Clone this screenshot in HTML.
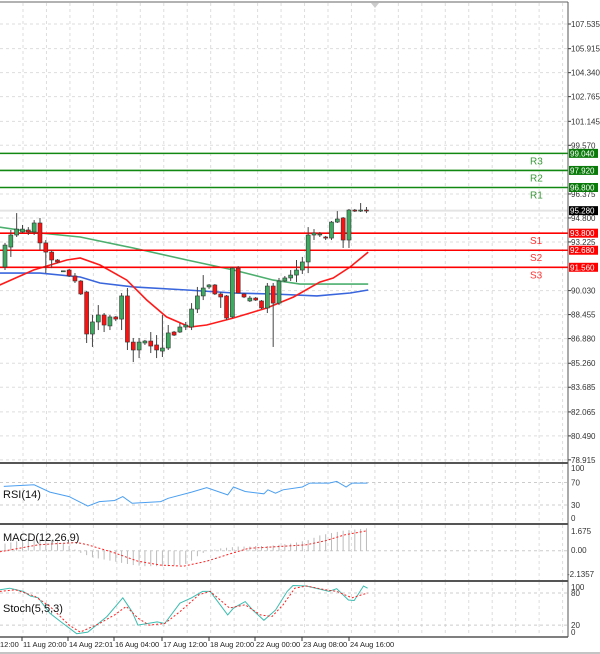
<!DOCTYPE html>
<html><head><meta charset="utf-8"><style>
html,body{margin:0;padding:0;background:#fff;}
svg{display:block;font-family:"Liberation Sans",sans-serif;}
</style></head><body>
<svg id="c" width="600" height="654" viewBox="0 0 600 654"></svg>
<script>
// ---- data ----
const opens  =[91.58,92.89,93.68,93.88,94.01,93.88,94.47,93.16,92.56,92.04,91.30,91.38,90.99,90.66,89.94,87.18,87.97,88.43,87.71,88.30,88.16,89.68,86.65,86.13,86.59,86.72,86.46,86.06,86.26,87.31,87.31,87.64,87.64,88.82,89.68,90.27,90.40,89.81,89.68,88.30,91.51,89.81,89.35,89.54,89.35,88.89,90.33,89.21,90.66,90.86,91.05,91.38,91.91,93.68,93.68,93.55,93.48,94.53,94.80,93.35,95.32,95.25,95.32];
const closes =[93.02,93.68,94.07,94.07,93.88,94.47,93.16,92.56,92.04,91.91,91.33,90.99,90.66,89.81,87.18,87.97,88.43,87.77,88.30,88.16,89.68,86.65,86.13,86.65,86.72,86.39,86.13,86.26,87.25,87.11,87.64,87.77,88.82,89.68,90.20,90.40,89.81,89.61,88.23,91.51,89.87,89.61,89.54,89.41,88.89,90.33,89.21,90.66,90.86,91.05,91.38,91.91,93.68,93.81,93.75,93.48,94.53,94.73,93.35,95.32,95.25,95.32,95.28];
const highs  =[93.16,94.01,95.12,94.34,94.20,94.66,94.80,93.35,92.70,92.10,91.35,91.45,91.18,90.72,90.00,88.43,89.08,88.56,88.43,88.36,89.87,90.20,86.92,86.92,86.79,87.31,87.11,88.43,87.77,87.38,87.90,87.97,89.21,90.27,91.05,90.46,90.46,89.94,89.74,91.58,91.64,89.87,89.68,89.61,89.41,90.53,90.53,90.86,90.99,91.38,92.04,92.24,94.20,94.07,93.88,93.62,94.60,95.25,94.86,95.39,95.39,95.78,95.52];
const lows   =[91.38,92.24,93.55,93.81,93.68,93.68,92.70,91.18,91.51,91.84,91.28,90.92,90.53,89.74,86.59,86.33,87.44,87.31,87.44,88.03,87.44,86.13,85.34,85.60,86.46,85.93,85.60,85.67,86.13,87.05,87.25,87.44,87.44,88.56,89.41,90.14,89.74,88.89,88.10,88.23,89.87,89.54,89.28,89.35,88.82,88.56,86.33,89.08,90.59,90.66,90.59,91.12,91.18,93.35,93.55,93.35,93.35,94.47,92.83,92.83,95.19,95.19,95.12];
const maGreenIdx=[-0.9,6,12.9,22,31.2,39.2,46,50.6,62.3];
const maGreenVal=[94.20,93.81,93.55,92.83,92.04,91.38,90.72,90.46,90.46];
const maBlueIdx=[-0.9,6,12.9,16.3,22,31.2,39.2,46,53.5,59.2,62.3];
const maBlueVal=[91.18,91.18,90.92,90.53,90.27,90.07,89.87,89.81,89.68,89.87,90.07];
const maRedIdx=[-0.9,4.9,10.6,12.9,16.3,20.9,24.3,27.7,31.7,34.6,39.2,44.9,49.5,54,56.3,59.2,62.3];
const maRedVal=[90.40,91.38,92.04,92.17,91.71,90.72,89.41,88.30,87.64,87.77,88.23,88.89,89.61,90.59,90.86,91.58,92.56];
const levelNames=["R3","R2","R1","S1","S2","S3"];
const levelVals=[99.04,97.92,96.80,93.80,92.68,91.56];
const lastPrice=95.28;
const priceTicks=[107.535,105.915,104.340,102.765,101.145,99.570,96.375,94.800,93.225,90.030,88.455,86.880,85.260,83.685,82.065,80.490,78.915];
const rsiIdx=[-0.2,5.0,7.7,11,14.2,16.2,18.8,20.2,21.8,26.7,28,32,34.6,38.2,39.2,41.2,44.4,45.1,46.4,47.7,51,52.3,55.6,56.9,58.5,59.5,62.2];
const rsiVal=[63,66,53,45,28,36,38,45,33,36,42,53,61,48,62,54,50,57,51,57,62,69,69,72,62,69,69];
const macdHist=[0.6,0.7,0.8,0.9,1.0,1.0,1.0,1.0,0.9,0.8,0.6,0.4,0.1,-0.2,-0.4,-0.6,-0.7,-0.8,-0.9,-1.0,-1.1,-1.2,-1.3,-1.35,-1.4,-1.4,-1.4,-1.4,-1.4,-1.35,-1.3,-1.2,-0.9,-0.5,-0.2,0.0,0.1,0.2,0.25,0.3,0.35,0.35,0.35,0.4,0.4,0.4,0.45,0.5,0.55,0.6,0.7,0.8,0.9,1.1,1.3,1.4,1.5,1.6,1.7,1.75,1.8,1.85,1.9];
const macdSigIdx=[-0.9,5.7,12.3,14.2,18.8,22.8,26.7,30.6,34.6,38.5,41.8,45.1,51.7,55,58.3,62.2];
const macdSigVal=[-0.1,0.5,0.7,0.5,-0.2,-0.95,-1.3,-1.4,-0.95,-0.3,0.2,0.3,0.5,0.85,1.35,1.7];
const stMainIdx=[-0.9,0.8,3.1,4.4,5.7,7.7,9.6,12.3,14.2,17.5,20.2,21.8,22.8,26.1,27.4,30,32,33.9,35.2,38.2,39.2,41.2,42.5,44.4,46.4,48.4,49.4,51.7,55.6,56.9,58.9,59.9,61.5,62.2];
const stMainVal=[86,89,83,74,71,42,26,4,7,36,71,45,20,26,23,61,71,83,83,39,52,64,48,29,48,83,94,93,83,88,67,66,93,89];
const stSigIdx=[-0.9,1.8,5.1,7.7,11,12.9,16.2,18.8,20.8,22.8,24.7,27.4,30,33.3,35.2,38.5,41.2,43.8,45.8,47.7,49.7,51.7,55,56.9,59.5,62.2];
const stSigVal=[83,86,74,55,20,7,23,39,55,33,20,23,45,77,83,52,58,39,36,58,89,93,86,83,71,80];
const timeLabels=["12:00","11 Aug 20:00","14 Aug 22:01","16 Aug 04:00","17 Aug 12:00","18 Aug 20:00","22 Aug 00:00","23 Aug 08:00","24 Aug 16:00"];
const timeLabelX=[0,23,69,115,163,210,256,303,350];

// ---- scales ----
const svg=document.getElementById('c');
const NS='http://www.w3.org/2000/svg';
const R=568;
function X(i){return 5+i*5.83;}
function PY(p){return 24+(107.535-p)*15.23;}
function RY(v){return 518-(v-0)*(518-468)/100*1.0+ (v>=30? -(v-30)*0.0:0);}
function RSIY(v){return 505-(v-30)*(22.5/40);}
function MY(v){return v>=0?550.7-v*11.76:550.7-v*11.05;}
function SY(v){return 593+(80-v)*0.535;}
function el(tag,attrs,parent){const e=document.createElementNS(NS,tag);for(const k in attrs)e.setAttribute(k,attrs[k]);(parent||svg).appendChild(e);return e;}
function txt(s,x,y,attrs,parent){const t=el('text',Object.assign({x:x,y:y},attrs),parent);t.textContent=s;return t;}

// grid
const grid=el('g',{});


for(let k=0;k<24;k++){const gx=23+k*23.46;
 el('line',{x1:gx,y1:3,x2:gx,y2:462,stroke:'#ddd','stroke-dasharray':'3,3'},grid);
 el('line',{x1:gx,y1:464,x2:gx,y2:523,stroke:'#ddd','stroke-dasharray':'3,3'},grid);
 el('line',{x1:gx,y1:525,x2:gx,y2:580,stroke:'#ddd','stroke-dasharray':'3,3'},grid);
 el('line',{x1:gx,y1:582,x2:gx,y2:636,stroke:'#ddd','stroke-dasharray':'3,3'},grid);
}
priceTicks.forEach(p=>{el('line',{x1:0,y1:PY(p),x2:R,y2:PY(p),stroke:'#ddd','stroke-dasharray':'3,3'},grid);});
[70,30].forEach(v=>el('line',{x1:0,y1:RSIY(v),x2:R,y2:RSIY(v),stroke:'#ccc','stroke-dasharray':'3,3'},grid));
[80,20].forEach(v=>el('line',{x1:0,y1:SY(v),x2:R,y2:SY(v),stroke:'#ccc','stroke-dasharray':'3,3'},grid));
el('line',{x1:0,y1:MY(0),x2:R,y2:MY(0),stroke:'#ccc','stroke-dasharray':'3,3'},grid);

// price axis
const pa=el('g',{});


priceTicks.forEach(p=>{el('line',{x1:R,y1:PY(p),x2:R+3,y2:PY(p),stroke:'#333'},pa);txt(p.toFixed(3),571,PY(p)+3,{'font-size':'8',fill:'#333'},pa);});

// current price line
const cpl=el('line',{x1:0,y1:PY(lastPrice),x2:R,y2:PY(lastPrice),stroke:'#e4e4e4','stroke-width':2});



// MAs
function poly(idx,val,yf,color,name,extra){const pts=idx.map((i,k)=>X(i).toFixed(1)+','+yf(val[k]).toFixed(1)).join(' ');const p=el('polyline',Object.assign({points:pts,fill:'none',stroke:color,'stroke-width':1.6},extra||{}));return p;}
poly(maGreenIdx,maGreenVal,PY,'#4caf6e','ma-green');
poly(maBlueIdx,maBlueVal,PY,'#3a66dd','ma-blue');
poly(maRedIdx,maRedVal,PY,'#ff1a1a','ma-red');

// levels
levelVals.forEach((v,k)=>{const res=k<3;const col=res?'#118811':'#ff0000';
 const g=el('g',{});
 
 
 el('line',{x1:0,y1:PY(v),x2:R,y2:PY(v),stroke:col,'stroke-width':1.6},g);
 txt(levelNames[k],530,PY(v)+11,{'font-size':'10',fill:res?'#3a9a3a':'#ff3333'},g);
 el('rect',{x:569,y:PY(v)-4.5,width:29,height:9,fill:res?'#0a7a0a':'#ff0000'},g);
 txt(v.toFixed(3),570,PY(v)+3,{'font-size':'8',fill:'#fff'},g);
});

// candles
const cg=el('g',{});


opens.forEach((o,i)=>{const c=closes[i];const up=c>=o;const x=X(i);
 const g=el('g',{},cg);
 
 
 el('line',{x1:x,y1:PY(highs[i]),x2:x,y2:PY(lows[i]),stroke:'#444','stroke-width':1},g);
 const top=PY(Math.max(o,c)),bot=PY(Math.min(o,c));
 el('rect',{x:x-2,y:top,width:4,height:Math.max(1,bot-top),fill:up?'#3caa5f':'#ff1010',stroke:'#333','stroke-width':0.6},g);
});

// last price box
const lb=el('g',{});


el('rect',{x:569,y:PY(lastPrice)-4.5,width:29,height:9,fill:'#000'},lb);
txt(lastPrice.toFixed(3),570,PY(lastPrice)+3,{'font-size':'8',fill:'#fff'},lb);
el('path',{d:'M371,3 L379,3 L375,8 Z',fill:'#ccc'});

// RSI
poly(rsiIdx,rsiVal,RSIY,'#4b9ff0','rsi-line',{'stroke-width':1});
txt('RSI(14)',3,498,{'font-size':'11',fill:'#111'});
[[100,468],[70,RSIY(70)],[30,RSIY(30)],[0,518]].forEach(a=>txt(String(a[0]),571,a[1]+3,{'font-size':'8',fill:'#333'}));

// MACD
const hg=el('g',{});


macdHist.forEach((v,i)=>{const y0=MY(0),y1=MY(v);el('line',{x1:X(i),y1:y0,x2:X(i),y2:y1,stroke:'#bbb','stroke-width':1},hg);});
poly(macdSigIdx,macdSigVal,MY,'#ff2020','macd-signal',{'stroke-width':1,'stroke-dasharray':'2,2'});
txt('MACD(12,26,9)',3,541,{'font-size':'11',fill:'#111'});
txt('1.675',571,534,{'font-size':'8',fill:'#333'});
txt('0.00',571,553,{'font-size':'8',fill:'#333'});
txt('-2.1357',567,577,{'font-size':'8',fill:'#333'});

// Stoch
poly(stMainIdx,stMainVal,SY,'#3bbcb0','stoch-main',{'stroke-width':1});
poly(stSigIdx,stSigVal,SY,'#ff2020','stoch-signal',{'stroke-width':1,'stroke-dasharray':'2,2'});
txt('Stoch(5,5,3)',3,612,{'font-size':'11',fill:'#111'});
[[100,587],[80,SY(80)],[20,SY(20)],[0,632]].forEach(a=>txt(String(a[0]),571,a[1]+3,{'font-size':'8',fill:'#333'}));

// panel borders
const bd=el('g',{});


el('line',{x1:0,y1:2,x2:R,y2:2,stroke:'#666','stroke-width':1},bd);
[463,524,581].forEach(y=>el('line',{x1:0,y1:y,x2:R,y2:y,stroke:'#555','stroke-width':2},bd));
el('line',{x1:0,y1:637,x2:R,y2:637,stroke:'#555','stroke-width':1.5},bd);
el('line',{x1:R,y1:2,x2:R,y2:637,stroke:'#555','stroke-width':1},bd);
el('line',{x1:0,y1:653,x2:600,y2:653,stroke:'#888','stroke-width':1},bd);

// time axis
const ta=el('g',{});


timeLabels.forEach((s,k)=>{const x=timeLabelX[k];if(k>0)el('line',{x1:x-1,y1:637,x2:x-1,y2:641,stroke:'#333'},ta);txt(s,x,647,{'font-size':'7.5',fill:'#222'},ta);});
</script>
</body></html>
